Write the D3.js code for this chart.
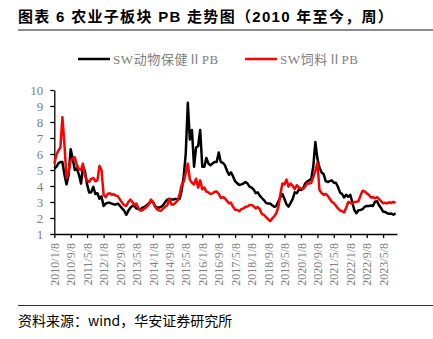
<!DOCTYPE html>
<html>
<head>
<meta charset="utf-8">
<script src="https://cdn.jsdelivr.net/npm/d3@7"></script>
<style>
  html, body { margin: 0; padding: 0; background: #fff; }
  svg { display: block; }
</style>
</head>
<body>
<svg id="chart" width="433" height="339"></svg>
<script>
// Month of each observation (weekly PB sampled once a month, on the 8th)
const months = [
  "2010-01","2010-02","2010-03","2010-04","2010-05","2010-06","2010-07","2010-08","2010-09","2010-10","2010-11","2010-12",
  "2011-01","2011-02","2011-03","2011-04","2011-05","2011-06","2011-07","2011-08","2011-09","2011-10","2011-11","2011-12",
  "2012-01","2012-02","2012-03","2012-04","2012-05","2012-06","2012-07","2012-08","2012-09","2012-10","2012-11","2012-12",
  "2013-01","2013-02","2013-03","2013-04","2013-05","2013-06","2013-07","2013-08","2013-09","2013-10","2013-11","2013-12",
  "2014-01","2014-02","2014-03","2014-04","2014-05","2014-06","2014-07","2014-08","2014-09","2014-10","2014-11","2014-12",
  "2015-01","2015-02","2015-03","2015-04","2015-05","2015-06","2015-07","2015-08","2015-09","2015-10","2015-11","2015-12",
  "2016-01","2016-02","2016-03","2016-04","2016-05","2016-06","2016-07","2016-08","2016-09","2016-10","2016-11","2016-12",
  "2017-01","2017-02","2017-03","2017-04","2017-05","2017-06","2017-07","2017-08","2017-09","2017-10","2017-11","2017-12",
  "2018-01","2018-02","2018-03","2018-04","2018-05","2018-06","2018-07","2018-08","2018-09","2018-10","2018-11","2018-12",
  "2019-01","2019-02","2019-03","2019-04","2019-05","2019-06","2019-07","2019-08","2019-09","2019-10","2019-11","2019-12",
  "2020-01","2020-02","2020-03","2020-04","2020-05","2020-06","2020-07","2020-08","2020-09","2020-10","2020-11","2020-12",
  "2021-01","2021-02","2021-03","2021-04","2021-05","2021-06","2021-07","2021-08","2021-09","2021-10","2021-11","2021-12",
  "2022-01","2022-02","2022-03","2022-04","2022-05","2022-06","2022-07","2022-08","2022-09","2022-10","2022-11","2022-12",
  "2023-01","2023-02","2023-03","2023-04","2023-05","2023-06","2023-07","2023-08","2023-09","2023-10","2023-11"
];

// SW动物保健Ⅱ PB
const animalHealthPB = [
  5.1,5.2,5.4,5.5,5.5,4.7,4.1,4.7,6.3,5.7,5.0,5.1,
  4.7,4.15,5.2,4.9,4.1,3.6,3.6,3.95,3.5,3.55,3.2,3.35,
  2.75,2.9,2.95,2.95,2.9,2.85,2.85,2.9,2.75,2.6,2.45,2.2,
  2.45,2.65,2.75,2.75,2.6,2.55,2.55,2.65,2.7,2.8,2.9,3.05,
  3.0,2.75,2.65,2.65,2.7,2.8,3.0,3.15,3.2,3.15,3.15,3.2,
  3.15,3.2,3.7,4.6,6.0,9.2,6.9,7.5,5.2,6.4,6.5,7.5,
  5.2,5.2,5.75,5.4,5.3,5.4,5.5,5.5,6.1,5.5,5.45,5.3,
  4.95,4.7,4.85,4.6,4.3,4.17,4.06,4.1,4.15,4.25,4.15,3.96,
  3.9,3.77,3.55,3.6,3.4,3.25,3.12,2.95,2.9,2.9,2.8,2.7,
  2.75,3.05,3.3,3.5,3.2,2.85,2.71,2.95,3.2,3.6,3.55,3.78,
  3.75,3.85,4.15,4.28,4.35,4.45,5.2,6.75,5.7,5.15,4.85,4.75,
  4.3,4.25,4.3,4.35,4.2,4.2,3.95,3.6,3.5,3.28,3.45,3.33,
  3.45,2.95,2.5,2.3,2.48,2.5,2.55,2.7,2.75,2.75,2.78,2.75,
  3.02,3.05,2.8,2.62,2.4,2.38,2.3,2.27,2.28,2.2,2.3
];

// SW饲料Ⅱ PB
const feedPB = [
  5.4,5.95,6.2,6.4,8.3,6.55,4.5,4.9,5.6,5.7,5.8,5.3,
  5.05,5.0,5.4,4.6,4.35,4.25,4.45,4.5,4.3,4.35,5.25,5.0,
  3.45,3.3,3.5,3.55,3.45,3.48,3.4,3.35,3.15,2.95,2.8,2.75,
  3.0,3.15,3.0,2.8,2.9,2.6,2.45,2.5,2.6,2.7,2.85,3.15,
  3.0,2.7,2.55,2.47,2.45,2.6,2.7,2.8,3.2,2.85,2.85,2.95,
  3.1,3.5,4.05,4.27,4.8,5.4,4.4,4.2,4.1,4.45,3.9,4.35,
  3.8,3.9,3.65,3.6,3.5,3.54,3.64,3.65,3.5,3.25,3.3,3.23,
  3.05,2.92,2.95,2.7,2.52,2.5,2.42,2.55,2.6,2.7,2.72,2.81,
  2.81,2.72,2.6,2.68,2.55,2.25,2.19,2.06,1.93,1.8,1.97,2.1,
  2.3,2.7,3.45,4.15,4.1,4.4,3.96,4.15,4.0,3.8,4.05,3.9,
  3.85,3.8,3.95,4.17,4.15,4.2,4.55,4.95,5.45,3.75,3.56,3.45,
  3.5,3.38,3.2,3.02,2.92,2.77,2.6,2.48,2.42,2.35,2.65,3.0,
  2.95,2.9,3.0,3.02,3.05,3.4,3.7,3.66,3.54,3.45,3.28,3.3,
  3.23,3.3,3.18,3.05,2.92,2.95,2.92,2.98,2.94,3.0,2.95
];

const xTickLabels = [
  "2010/1/8","2010/9/8","2011/5/8","2012/1/8","2012/9/8","2013/5/8","2014/1/8",
  "2014/9/8","2015/5/8","2016/1/8","2016/9/8","2017/5/8","2018/1/8","2018/9/8",
  "2019/5/8","2020/1/8","2020/9/8","2021/5/8","2022/1/8","2022/9/8","2023/5/8"
];
const yTickValues = [1, 2, 3, 4, 5, 6, 7, 8, 9, 10];
const seriesNames = ["SW动物保健ⅡPB", "SW饲料ⅡPB"];
const seriesColors = ["#000000", "#ff0000"];
const axisStart = "2010-01-08";
const axisEnd = "2023-11-30";

const titleText = "图表 6  农业子板块 PB 走势图（2010 年至今，周）";
const sourceText = "资料来源：wind，华安证券研究所";

const parseDay = d3.timeParse("%Y-%m-%d");
const parseTick = d3.timeParse("%Y/%m/%d");
const dates = months.map(m => parseDay(m + "-08"));

const serifFont = "'Liberation Serif', 'Noto Sans CJK SC', serif";
const labelGray = "#808080";

const svg = d3.select("#chart");

// Plot frame
const plot = { left: 54.3, right: 397, top: 90, bottom: 234 };

const x = d3.scaleTime()
  .domain([parseDay(axisStart), parseDay(axisEnd)])
  .range([plot.left, plot.right]);

const y = d3.scaleLinear()
  .domain([1, 10])
  .range([plot.bottom, plot.top]);

// Title and rule under it
svg.append("text")
  .attr("x", 18)
  .attr("y", 22)
  .attr("font-family", "'Liberation Sans', 'Noto Sans CJK SC', sans-serif")
  .attr("font-weight", "bold")
  .attr("font-size", 15)
  .attr("letter-spacing", 1.3)
  .attr("fill", "#000")
  .text(titleText);

svg.append("line")
  .attr("x1", 18).attr("x2", 433)
  .attr("y1", 30).attr("y2", 30)
  .attr("stroke", "#8c8c8c")
  .attr("stroke-width", 2);

// Legend
const legendItems = [
  { name: seriesNames[0], color: seriesColors[0], x: 78 },
  { name: seriesNames[1], color: seriesColors[1], x: 245 }
];
const legend = svg.append("g");
legendItems.forEach(item => {
  legend.append("line")
    .attr("x1", item.x).attr("x2", item.x + 32)
    .attr("y1", 59).attr("y2", 59)
    .attr("stroke", item.color)
    .attr("stroke-width", 2.5);
  legend.append("text")
    .attr("x", item.x + 35)
    .attr("y", 63.5)
    .attr("font-family", serifFont)
    .attr("font-size", 13)
    .attr("letter-spacing", 0.6)
    .attr("fill", labelGray)
    .text(item.name);
});

// Axes
const yAxis = d3.axisLeft(y)
  .tickValues(yTickValues)
  .tickFormat(d3.format("d"))
  .tickSize(4)
  .tickSizeOuter(0)
  .tickPadding(7);

const gy = svg.append("g")
  .attr("transform", `translate(${plot.left},0)`)
  .call(yAxis);

const tickDates = xTickLabels.map(parseTick);
const xAxis = d3.axisBottom(x)
  .tickValues(tickDates)
  .tickFormat((d, i) => xTickLabels[i])
  .tickSize(4)
  .tickSizeOuter(0);

const gx = svg.append("g")
  .attr("transform", `translate(0,${plot.bottom})`)
  .call(xAxis);

gx.selectAll(".tick text")
  .attr("transform", "translate(0,9) rotate(-90)")
  .attr("x", 0)
  .attr("y", 0)
  .attr("dy", "0.35em")
  .attr("text-anchor", "end");

[gx, gy].forEach(g => {
  g.select(".domain").attr("stroke", "#000").attr("stroke-width", 1.3);
  g.selectAll(".tick line").attr("stroke", "#000").attr("stroke-width", 1.3);
  g.selectAll(".tick text")
    .attr("fill", labelGray)
    .attr("font-family", serifFont);
});
gx.selectAll(".tick text").attr("font-size", 12);
gy.selectAll(".tick text").attr("font-size", 13);

// Series lines
const line = d3.line()
  .x((d, i) => x(dates[i]))
  .y(d => y(d));

[animalHealthPB, feedPB].forEach((values, k) => {
  svg.append("path")
    .datum(values)
    .attr("fill", "none")
    .attr("stroke", seriesColors[k])
    .attr("stroke-width", 2.5)
    .attr("stroke-linejoin", "round")
    .attr("d", line);
});

// Source note and rule above it
svg.append("line")
  .attr("x1", 18).attr("x2", 433)
  .attr("y1", 305.5).attr("y2", 305.5)
  .attr("stroke", "#333")
  .attr("stroke-width", 1);

svg.append("text")
  .attr("x", 18)
  .attr("y", 326)
  .attr("font-family", "'Noto Sans CJK SC', sans-serif")
  .attr("font-size", 14)
  .attr("fill", "#000")
  .text(sourceText);
</script>
</body>
</html>
